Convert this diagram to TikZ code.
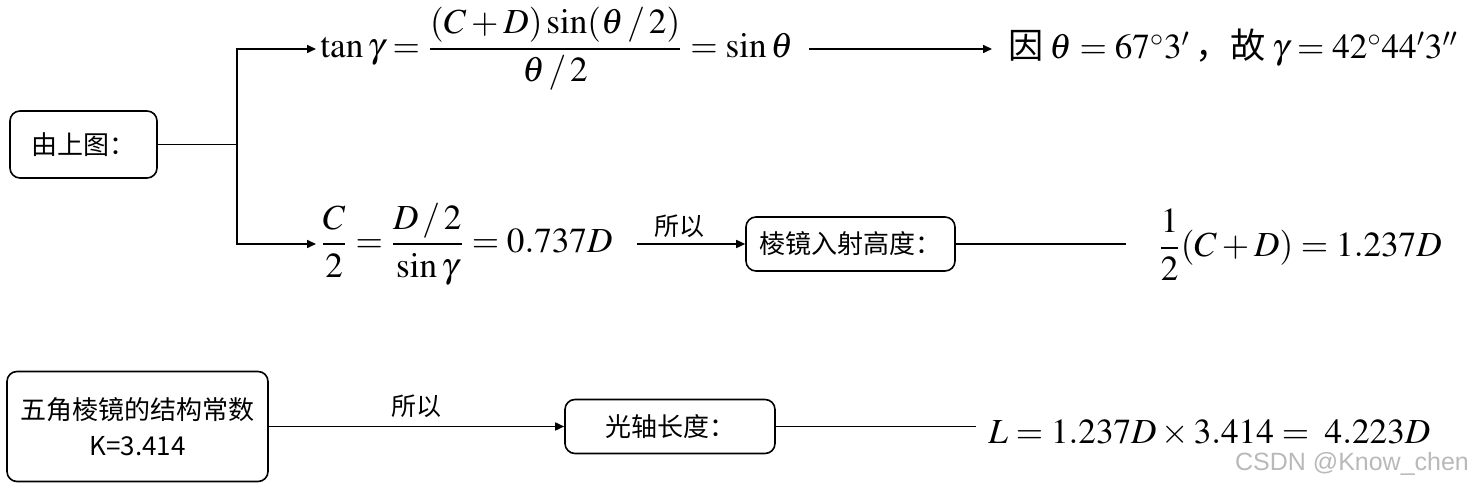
\documentclass[tikz,border=0pt]{standalone}
\usepackage{amsmath}
\usepackage{mathptmx}
\usepackage{fontspec}
\setmainfont{Liberation Serif}
\newfontfamily\cjk{Noto Sans CJK SC}
\newfontfamily\wmfont{Liberation Sans}
\usetikzlibrary{arrows.meta, positioning, calc}

\begin{document}
\begin{tikzpicture}[
    x=0.5pt, y=-0.5pt,
    box/.style={
        draw, thick, rounded corners=5pt, inner sep=0pt,
        font=\cjk\fontsize{13}{18}\selectfont, align=center
    },
    formula/.style={inner sep=0pt, font=\fontsize{17.6}{20}\selectfont},
    reason/.style={font=\cjk\fontsize{12.5}{15}\selectfont, inner sep=1pt},
    conn/.style={-{Triangle[length=4.5pt,width=4pt]}, thick},
    plain/.style={thick},
]
\useasboundingbox (0,0) rectangle (1481,490);

% Nodes
\node[box, minimum width=73.5pt, minimum height=33.5pt] (fig) at (83.5,144.5) {由上图：};
\coordinate (fork) at (237,144.5);

\node[formula, anchor=west] (tan) at (320,49)
    {$\tan\gamma=\dfrac{(C+D)\sin(\theta\,/\,2)}{\theta\,/\,2}=\sin\theta$};
\node[formula, anchor=west] (angle) at (1008,48)
    {{\cjk 因}\,$\theta=67^\circ3'$\,{\cjk ，故}\,$\gamma=42^\circ44'3''$};

\node[formula, anchor=west] (half) at (320,244)
    {$\dfrac{C}{2}=\dfrac{D\,/\,2}{\sin\gamma}=0.737D$};
\node[box, minimum width=104.5pt, minimum height=27pt] (height) at (850.5,244) {棱镜入射高度：};
\node[formula, anchor=west] (entry) at (1158,245) {$\dfrac{1}{2}(C+D)=1.237D$};

\node[box, minimum width=130.5pt, minimum height=55pt] (const) at (137.5,426.5)
    {五角棱镜的结构常数\\K=3.414};
\node[box, minimum width=105pt, minimum height=27pt] (axis) at (670,426.5) {光轴长度：};
\node[formula, anchor=west] (length) at (988,433) {$L=1.237D\times3.414=\;4.223D$};

\node[font=\wmfont\fontsize{12.5}{15}\selectfont, text=gray!55, anchor=east] (mark) at (1476,464)
    {CSDN @Know\_chen};

% Connectors
\draw[plain] (fig) -- (fork);
\draw[conn, shorten >=2pt] (fork) |- (tan.west);
\draw[conn, shorten >=2pt] (fork) |- (half.west);

\draw[conn, shorten <=8pt, shorten >=8pt] (tan.east) -- (tan.east -| angle.west);

\draw[conn, shorten <=12pt] (half.east) -- node[reason, above=2pt] {所以} (height.west);
\draw[plain, shorten >=16pt] (height.east) -- (height.east -| entry.west);

\draw[conn] (const.east) -- node[reason, above=3pt] {所以} (axis.west);
\draw[plain, shorten >=6pt] (axis.east) -- (axis.east -| length.west);

\end{tikzpicture}
\end{document}
